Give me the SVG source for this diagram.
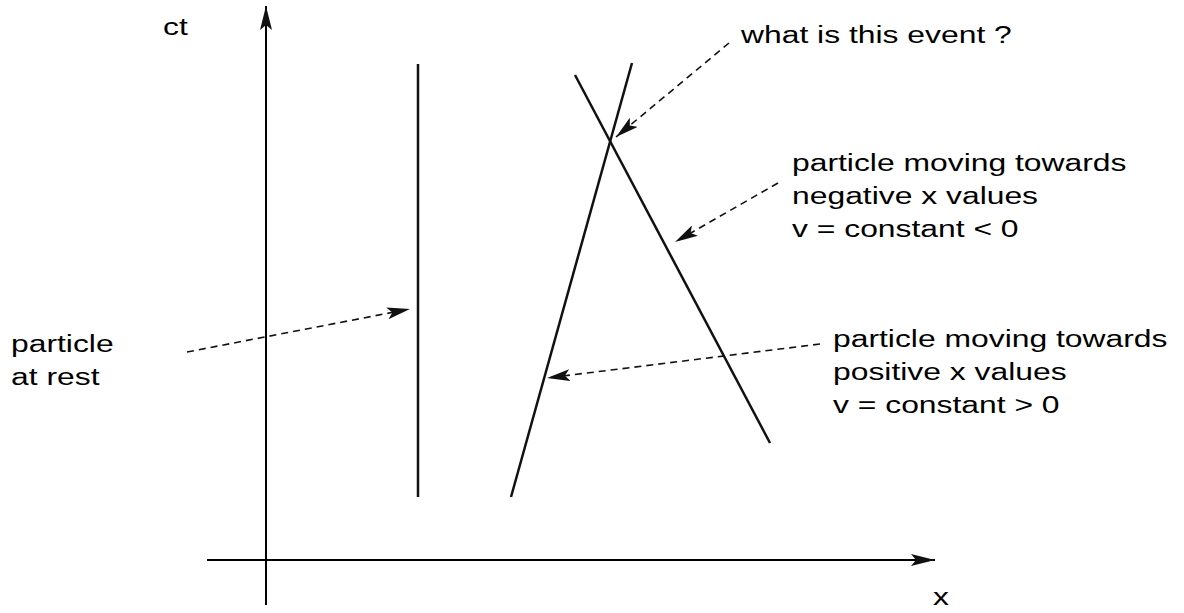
<svg xmlns="http://www.w3.org/2000/svg" width="1184" height="613" viewBox="0 0 1184 613">
<style>
text{font-family:"Liberation Sans",Arial,Helvetica,sans-serif;font-size:24.5px;fill:#000}
.axis{stroke:#000;stroke-width:2;fill:none}
.wl{stroke:#111;stroke-width:2.5;fill:none}
.dash{stroke:#111;stroke-width:1.6;fill:none;stroke-dasharray:7,5}
</style>
<defs>
<marker id="ah" markerWidth="24" markerHeight="12" refX="24" refY="6" orient="auto" markerUnits="userSpaceOnUse">
<path d="M0,0 L24,6 L0,12 L5,6 Z" fill="#111"/>
</marker>
<marker id="ahs" markerWidth="23" markerHeight="12" refX="23" refY="6" orient="auto" markerUnits="userSpaceOnUse">
<path d="M0,0 L23,6 L0,12 L5,6 Z" fill="#111"/>
</marker>
</defs>
<g id="axes">
<line class="axis" x1="266" y1="605" x2="266" y2="6" marker-end="url(#ah)"/>
<line class="axis" x1="207" y1="560" x2="935" y2="560" marker-end="url(#ah)"/>
<text transform="translate(163,35) scale(1.3,1)">ct</text>
<text transform="translate(933,605) scale(1.3,1)">x</text>
</g>
<g id="rest-line"><line class="wl" x1="418" y1="64" x2="418" y2="497"/></g>
<g id="positive-line"><line class="wl" x1="511" y1="497" x2="632" y2="63"/></g>
<g id="negative-line"><line class="wl" x1="575" y1="75" x2="770" y2="443"/></g>
<g id="label-event"><text transform="translate(741,43) scale(1.3,1)">what is this event ?</text></g>
<g id="label-negative">
<text transform="translate(792,171) scale(1.3,1)">particle moving towards</text>
<text transform="translate(792,204) scale(1.3,1)">negative x values</text>
<text transform="translate(792,237) scale(1.3,1)">v = constant &lt; 0</text>
</g>
<g id="label-positive">
<text transform="translate(833,347) scale(1.3,1)">particle moving towards</text>
<text transform="translate(833,380) scale(1.3,1)">positive x values</text>
<text transform="translate(833,413) scale(1.3,1)">v = constant &gt; 0</text>
</g>
<g id="label-rest">
<text transform="translate(11,352) scale(1.3,1)">particle</text>
<text transform="translate(11,385) scale(1.3,1)">at rest</text>
</g>
<g id="connectors">
<line class="dash" x1="729" y1="43" x2="616" y2="137" marker-end="url(#ahs)"/>
<line class="dash" x1="778" y1="183" x2="675" y2="242" marker-end="url(#ahs)"/>
<line class="dash" x1="820" y1="344" x2="547" y2="378" marker-end="url(#ahs)"/>
<line class="dash" x1="187" y1="352" x2="410" y2="309" marker-end="url(#ahs)"/>
</g>
</svg>
